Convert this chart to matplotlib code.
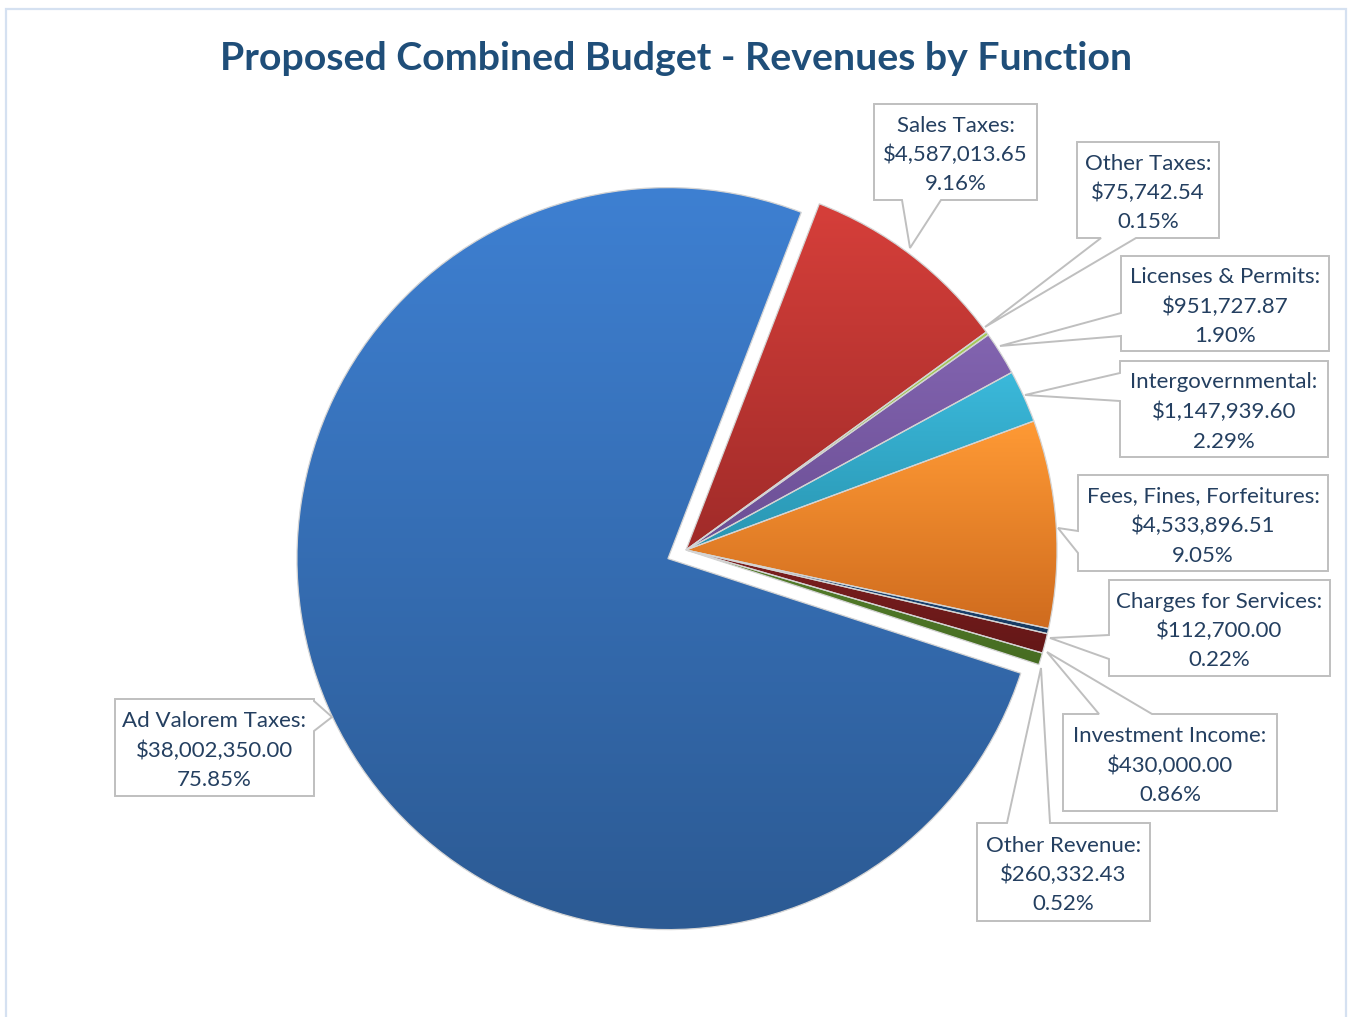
import numpy as np
import matplotlib
matplotlib.use('Agg')
import matplotlib.pyplot as plt
from matplotlib.patches import Polygon, Rectangle
from matplotlib.colors import to_rgb

# revenue data
categories = ['Ad Valorem Taxes', 'Sales Taxes', 'Other Taxes', 'Licenses & Permits',
              'Intergovernmental', 'Fees, Fines, Forfeitures', 'Charges for Services',
              'Investment Income', 'Other Revenue']
values = [38002350.00, 4587013.65, 75742.54, 951727.87, 1147939.60,
          4533896.51, 112700.00, 430000.00, 260332.43]

# gradient (top, bottom) per slice
slice_colors = [('#3E80D2', '#2C5A93'), ('#D63F3A', '#A02B29'), ('#A5CC58', '#8DB444'),
                ('#8264B0', '#6B4E94'), ('#3BB9DB', '#2995B1'), ('#FF9A35', '#CF6B1E'),
                ('#1F4E86', '#17395F'), ('#7E2020', '#641717'), ('#557F2B', '#466C22')]

W, H = 1349, 1017
CX, CY, R = 686, 550, 371      # pie centre / radius in pixels (y down)

# callout boxes in pixels: (x0, y0, x1, y1), notch side, notch base a, b, tip
callouts = [
    ((115, 699, 314, 796), 'right', 701, 731, (332, 717)),
    ((874, 104, 1037, 200), 'bottom', 902, 941, (910, 248)),
    ((1077, 142, 1219, 238), 'bottom', 1101, 1136, (985, 327)),
    ((1121, 256, 1329, 351), 'left', 313, 336, (1000, 346)),
    ((1120, 361, 1328, 457), 'left', 373, 401, (1025, 395)),
    ((1078, 475, 1328, 571), 'left', 531, 553, (1058, 528)),
    ((1109, 580, 1330, 676), 'left', 635, 659, (1050, 638)),
    ((1063, 714, 1277, 811), 'top', 1099, 1152, (1047, 652)),
    ((977, 823, 1150, 921), 'top', 1007, 1050, (1041, 668)),
]


def py(y):
    return H - y


fig = plt.figure(figsize=(W / 100, H / 100), dpi=100)
ax = fig.add_axes([0, 0, 1, 1])

explode = [20] + [0] * (len(values) - 1)   # pie explode is in data units here
wedges, _ = ax.pie(values, explode=explode, startangle=342, counterclock=False,
                   center=(CX, py(CY)), radius=R,
                   wedgeprops=dict(edgecolor='#D4D4D4', linewidth=0.9))

for w, (ctop, cbot) in zip(wedges, slice_colors):
    v = w.get_path().vertices
    x0, x1 = v[:, 0].min(), v[:, 0].max()
    y0, y1 = v[:, 1].min(), v[:, 1].max()
    t = np.linspace(0, 1, 256)[:, None]
    grad = (1 - t) * np.array(to_rgb(ctop)) + t * np.array(to_rgb(cbot))
    grad = grad[:, None, :]
    im = ax.imshow(grad, extent=(x0, x1, y0, y1), origin='upper', aspect='auto',
                   zorder=1, interpolation='bilinear')
    im.set_clip_path(w)
    w.set_facecolor('none')
    w.set_zorder(2)

total = sum(values)
for cat, val, (box, side, a, b, tip) in zip(categories, values, callouts):
    x0, y0, x1, y1 = box
    if side == 'right':
        pts = [(x0, y0), (x1, y0), (x1, a), tip, (x1, b), (x1, y1), (x0, y1)]
    elif side == 'bottom':
        pts = [(x0, y0), (x1, y0), (x1, y1), (b, y1), tip, (a, y1), (x0, y1)]
    elif side == 'top':
        pts = [(x0, y0), (a, y0), tip, (b, y0), (x1, y0), (x1, y1), (x0, y1)]
    else:
        pts = [(x0, y0), (x1, y0), (x1, y1), (x0, y1), (x0, b), tip, (x0, a)]
    pts = [(p[0], py(p[1])) for p in pts]
    ax.add_patch(Polygon(pts, closed=True, facecolor='white', edgecolor='#BFBFBF',
                         linewidth=1.4, zorder=3))
    lines = [cat + ':', '${:,.2f}'.format(val), '{:.2%}'.format(val / total)]
    xc = (x0 + x1) / 2
    yc = (y0 + y1) / 2 + 3
    for i, s in enumerate(lines):
        ax.text(xc, py(yc + (i - 1) * 29.5), s, ha='center', va='center',
                fontsize=16, family='Lato', color='#243F60', zorder=4)

ax.set_xlim(0, W)
ax.set_ylim(0, H)
ax.axis('off')

fig.text(676 / W, 1 - 59 / H, 'Proposed Combined Budget - Revenues by Function',
         ha='center', va='center', fontsize=28.3, fontweight='bold', family='Lato',
         color='#1F4E79')

fig.patches.append(Rectangle((6 / W, -0.05), 1340 / W, 1 - 9 / H + 0.05,
                             transform=fig.transFigure, fill=False,
                             edgecolor='#D5E1F1', linewidth=1.6))

fig.savefig('out.png', dpi=100, facecolor='white')
